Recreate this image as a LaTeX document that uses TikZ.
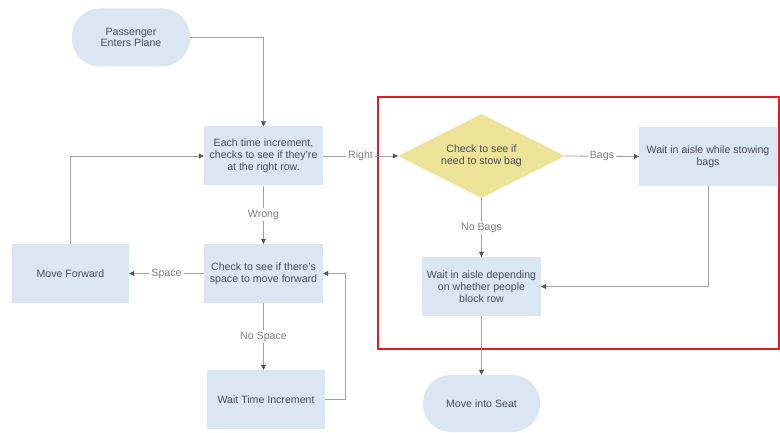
\documentclass[tikz,border=0pt]{standalone}
\usepackage{fontspec}
\setmainfont{Liberation Sans}
\usetikzlibrary{arrows.meta,shapes.geometric}
\definecolor{boxblue}{RGB}{218,231,243}
\definecolor{diayellow}{RGB}{237,228,154}
\definecolor{txtgray}{RGB}{72,76,88}
\definecolor{linegray}{RGB}{160,160,160}
\definecolor{tipgray}{RGB}{85,85,85}
\definecolor{lblgray}{RGB}{128,128,128}
\definecolor{redframe}{RGB}{220,30,40}
\begin{document}
\begin{tikzpicture}[x=1pt,y=-1pt,
  every node/.style={font=\fontsize{10.6}{11.8}\selectfont, text=txtgray, align=center, inner sep=0pt},
  procbox/.style={rectangle, fill=boxblue, minimum width=119pt, minimum height=59pt},
  termbox/.style={rectangle, rounded corners=28pt, fill=boxblue, minimum width=118pt, minimum height=58pt},
  decbox/.style={diamond, aspect=2, fill=diayellow, minimum width=167pt, minimum height=84pt},
  conn/.style={draw=linegray, line width=0.8pt, -{Triangle[length=5pt,width=5pt,color=tipgray]}},
  lbl/.style={fill=white, text=lblgray, inner sep=2pt}
]
\useasboundingbox (0,0) rectangle (780,433);
\fill[white] (0,0) rectangle (780,433);

% red frame
\draw[redframe, line width=1.3pt] (378,97) rectangle (779,349);

% nodes
\node[termbox] (start) at (131,37.5) {Passenger\\Enters Plane};
\node[procbox] (each) at (263.5,156) {Each time increment,\\checks to see if they're\\at the right row.};
\node[procbox] (space) at (263.5,273.5) {Check to see if there's\\space to move forward};
\node[procbox, minimum width=117pt] (move) at (70.5,273.5) {Move Forward};
\node[procbox, minimum width=118pt] (wait) at (266,399.5) {Wait Time Increment};
\node[decbox] (dec) at (481.5,156) {Check to see if\\need to stow bag};
\node[procbox, minimum width=138pt] (stow) at (708,156.5) {Wait in aisle while stowing\\bags};
\node[procbox] (depend) at (481.5,286.5) {Wait in aisle depending\\on whether people\\block row};
\node[termbox, minimum width=117pt, minimum height=57pt] (seat) at (481.5,403.5) {Move into Seat};

% connectors
\draw[conn] (start.east) -| (each.north);
\draw[conn] (each.south) -- node[lbl] {Wrong} (space.north);
\draw[conn] (space.west) -- node[lbl] {Space} (move.east);
\draw[conn] (move.north) |- (each.west);
\draw[conn] (space.south) -- node[lbl] {No Space} (space.south |- wait.north);
\draw[conn] (wait.east) -- ([xshift=20pt]wait.east) |- (space.east);
\draw[conn] (each.east) -- node[lbl] {Right} (dec.west);
\draw[conn] (dec.east) -- node[lbl] {Bags} (stow.west);
\draw[conn] (dec.south) -- node[lbl] {No Bags} (depend.north);
\draw[conn] (stow.south) |- (depend.east);
\draw[conn] (depend.south) -- (seat.north);
\end{tikzpicture}
\end{document}
